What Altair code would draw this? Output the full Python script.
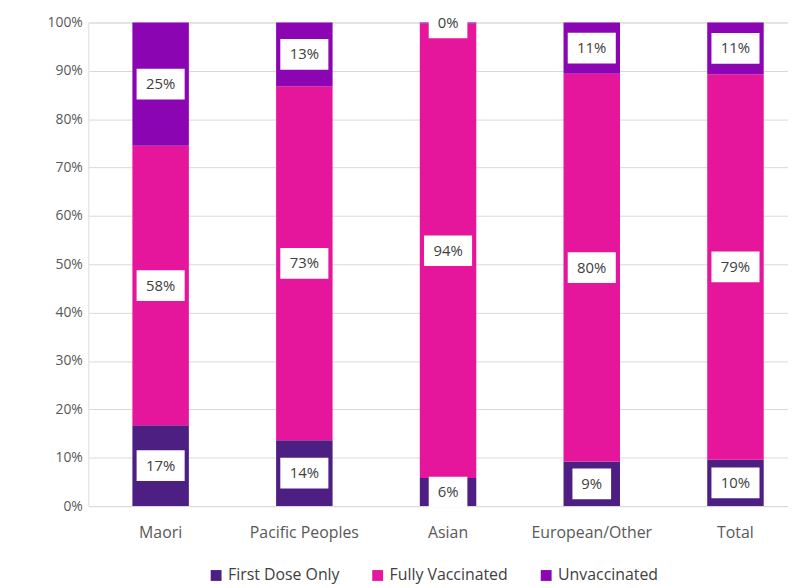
import altair as alt
import pandas as pd

groups = ["Maori", "Pacific Peoples", "Asian", "European/Other", "Total"]
series = ["First Dose Only", "Fully Vaccinated", "Unvaccinated"]
colors = ["#4E1F82", "#E5169B", "#8B05B3"]

first_dose = [16.7, 13.6, 5.8, 9.2, 9.6]
fully = [57.8, 73.2, 94.0, 80.2, 79.7]
unvacc = [25.5, 13.2, 0.2, 10.6, 10.7]

first_lbl = ["17%", "14%", "6%", "9%", "10%"]
fully_lbl = ["58%", "73%", "94%", "80%", "79%"]
unvacc_lbl = ["25%", "13%", "0%", "11%", "11%"]

rows = []
for i, g in enumerate(groups):
    base = 0.0
    for k, (vals, lbls) in enumerate([(first_dose, first_lbl), (fully, fully_lbl), (unvacc, unvacc_lbl)]):
        v = vals[i]
        w = 20 + 9.5 * len(lbls[i])
        h = 31
        hh = h / w
        rows.append({
            "group": g, "series": series[k], "order": k, "value": v,
            "mid": base + v / 2, "label": lbls[i],
            "bsize": w * w,
            "bshape": f"M-1,-{hh:.4f}L1,-{hh:.4f}L1,{hh:.4f}L-1,{hh:.4f}Z",
        })
        base += v
df = pd.DataFrame(rows)

FONT = "Open Sans"

xenc = alt.X("group:N", sort=groups, title=None,
             scale=alt.Scale(range=[0.5, 725.5], paddingInner=0.607, paddingOuter=0.3035),
             axis=alt.Axis(labelAngle=0, ticks=False, domain=False, labelPadding=19,
                           labelFontSize=16, labelColor="#595959", labelFont=FONT))

bars = alt.Chart(df).mark_bar().encode(
    x=xenc,
    y=alt.Y("value:Q", stack="zero", title=None,
            scale=alt.Scale(domain=[0, 100], nice=False),
            axis=alt.Axis(values=list(range(0, 101, 10)), labelExpr="datum.value + '%'",
                          ticks=False, domain=False, grid=True, gridColor="#D9D9D9",
                          labelPadding=6, labelFontSize=14, labelColor="#595959",
                          labelFont=FONT)),
    color=alt.Color("series:N", sort=series,
                    scale=alt.Scale(domain=series, range=colors),
                    legend=alt.Legend(title=None, orient="none", direction="horizontal",
                                      legendX=121, legendY=550, symbolType="square",
                                      symbolSize=120, symbolStrokeWidth=0,
                                      labelFontSize=16, labelColor="#404040",
                                      labelFont=FONT, columnPadding=30, symbolOffset=0,
                                      labelOffset=4)),
    order=alt.Order("order:Q"),
)

boxes = alt.Chart(df).mark_point(filled=True, opacity=1, strokeWidth=0).encode(
    x=alt.X("group:N", sort=groups),
    y=alt.Y("mid:Q"),
    shape=alt.Shape("bshape:N", scale=None),
    size=alt.Size("bsize:Q", scale=None),
    color=alt.value("white"),
)

texts = alt.Chart(df).mark_text(fontSize=15, color="#404040", font=FONT).encode(
    x=alt.X("group:N", sort=groups),
    y=alt.Y("mid:Q"),
    text="label:N",
)

chart = alt.layer(bars, boxes, texts).properties(
    width=706, height=488,
    autosize=alt.AutoSizeParams(type="none"),
    padding={"left": 81, "top": 12, "right": 0, "bottom": 76},
).configure_view(stroke=None).configure(background="white")

chart.save("out.html", embed_options={"renderer": "svg", "actions": False})
